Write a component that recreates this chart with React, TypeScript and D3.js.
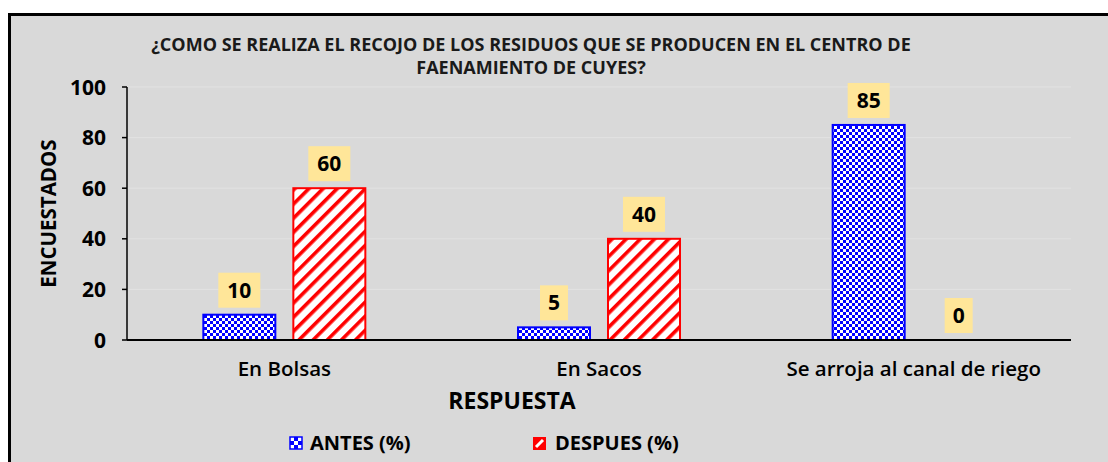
import React from "react";
import * as d3 from "d3";

const categories = ["En Bolsas", "En Sacos", "Se arroja al canal de riego"];
const antes = [10, 5, 85];
const despues = [60, 40, 0];
const yTicks = [0, 20, 40, 60, 80, 100];
const seriesNames = ["ANTES (%)", "DESPUES (%)"];
const titleLines = [
  "¿COMO SE REALIZA EL RECOJO DE LOS RESIDUOS QUE SE PRODUCEN EN EL CENTRO DE",
  "FAENAMIENTO DE CUYES?",
];

export default function App() {
  const W = 1108, H = 462;
  const left = 127, right = 1071, top = 87, bottom = 340;
  const x0 = d3.scaleBand<string>().domain(categories).range([left, right]).paddingInner(0).paddingOuter(0);
  const y = d3.scaleLinear().domain([0, 100]).range([bottom, top]);
  const barW = 72, gap = 18;
  const font = "'Open Sans', sans-serif";
  const series = [
    { name: seriesNames[0], values: antes, fill: "url(#checker)", stroke: "#0000ff", off: -(barW + gap) / 2 },
    { name: seriesNames[1], values: despues, fill: "url(#diag)", stroke: "#ff0000", off: (barW + gap) / 2 },
  ];
  return (
    <svg width={W} height={H} style={{ position: "absolute", left: 0, top: 0 }}>
      <defs>
        <pattern id="checker" width="6" height="6" patternUnits="userSpaceOnUse">
          <rect width="6" height="6" fill="#0000ff" />
          <rect x="0" y="0" width="3" height="3" fill="#ffffff" />
          <rect x="3" y="3" width="3" height="3" fill="#ffffff" />
        </pattern>
        <pattern id="diag" width="10" height="10" patternUnits="userSpaceOnUse" patternTransform="rotate(45)">
          <rect width="10" height="10" fill="#ffffff" />
          <rect x="0" y="0" width="3.6" height="10" fill="#ff0000" />
        </pattern>
        <pattern id="checkerL" x="290" y="437" width="8" height="8" patternUnits="userSpaceOnUse">
          <rect width="8" height="8" fill="#0000ff" />
          <rect x="0" y="0" width="4" height="4" fill="#ffffff" />
          <rect x="4" y="4" width="4" height="4" fill="#ffffff" />
        </pattern>
      </defs>
      <rect x={0} y={0} width={W} height={H} fill="#ffffff" />
      <rect x={9.5} y={14.5} width={W + 20} height={H + 20} fill="#d9d9d9" stroke="#000" strokeWidth={3} />
      {titleLines.map((t, i) => (
        <text key={i} x={531} y={51 + i * 23} textAnchor="middle" fontFamily={font} fontWeight="bold" fontSize={18} fill="#1a1a1a">
          {t}
        </text>
      ))}
      {yTicks.slice(1).map((t) => (
        <line key={t} x1={left} x2={right} y1={y(t)} y2={y(t)} stroke="#e2e2e2" strokeWidth={1} />
      ))}
      {yTicks.map((t) => (
        <g key={t}>
          <line x1={left - 5} x2={left} y1={y(t)} y2={y(t)} stroke="#000" strokeWidth={1.5} />
          <text x={106} y={y(t) + 7.5} textAnchor="end" fontFamily={font} fontWeight="bold" fontSize={21} fill="#000">
            {t}
          </text>
        </g>
      ))}
      <line x1={left} x2={left} y1={top} y2={bottom} stroke="#000" strokeWidth={1.5} />
      {series.map((s) =>
        s.values.map((v, i) => {
          const cx = (x0(categories[i]) as number) + x0.bandwidth() / 2 + s.off;
          const yt = y(v);
          const bw = v >= 10 ? 42 : 28;
          return (
            <g key={s.name + i}>
              {v > 0 && (
                <rect x={cx - barW / 2} y={yt} width={barW} height={bottom - yt} fill={s.fill} stroke={s.stroke} strokeWidth={2} />
              )}
              <rect x={cx - bw / 2} y={yt - 42} width={bw} height={35} fill="#ffe699" />
              <text x={cx} y={yt - 17} textAnchor="middle" fontFamily={font} fontWeight="bold" fontSize={21} fill="#000">
                {v}
              </text>
            </g>
          );
        })
      )}
      <line x1={left} x2={right} y1={bottom} y2={bottom} stroke="#000" strokeWidth={2} />
      {categories.map((c) => (
        <text key={c} x={(x0(c) as number) + x0.bandwidth() / 2} y={376} textAnchor="middle" fontFamily={font} fontWeight={600} fontSize={20.5} fill="#000">
          {c}
        </text>
      ))}
      <text x={512} y={409} textAnchor="middle" fontFamily={font} fontWeight="bold" fontSize={23} fill="#000">
        RESPUESTA
      </text>
      <text transform={`translate(56,${(top + bottom) / 2}) rotate(-90)`} textAnchor="middle" fontFamily={font} fontWeight="bold" fontSize={20.5} fill="#000">
        ENCUESTADOS
      </text>
      <g>
        <rect x={290} y={437} width={12} height={12} fill="url(#checkerL)" stroke="#0000ff" strokeWidth={1.5} />
        <text x={310} y={450} fontFamily={font} fontWeight="bold" fontSize={20} fill="#000">{seriesNames[0]}</text>
        <rect x={533} y={437} width={13} height={13} fill="#ff0000" />
        <path d="M536,447 L543,440" stroke="#fff" strokeWidth={3} />
        <text x={555} y={450} fontFamily={font} fontWeight="bold" fontSize={20} fill="#000">{seriesNames[1]}</text>
      </g>
    </svg>
  );
}
